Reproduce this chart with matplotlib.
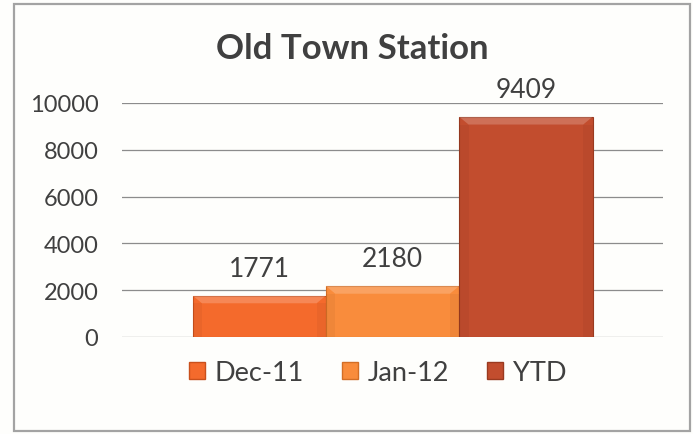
import matplotlib
matplotlib.use("Agg")
import matplotlib.pyplot as plt
from matplotlib.patches import Polygon, Rectangle, Patch

# station totals
series = ["Dec-11", "Jan-12", "YTD"]
values = [1771, 2180, 9409]
colors = ["#F46A2C", "#F98C3C", "#C24D2E"]
edges = ["#C9501C", "#D36E26", "#9A3A20"]
yticks = [0, 2000, 4000, 6000, 8000, 10000]

plt.rcParams["font.family"] = ["Lato", "DejaVu Sans"]
text_col = "#404040"

fig = plt.figure(figsize=(6.93, 4.35), dpi=100, facecolor="#FEFEFC")
ax = fig.add_axes([0.176, 0.223, 0.781, 0.538])
ax.set_facecolor("none")

xs = list(range(len(values)))
bars = ax.bar(xs, values, width=1.0, color=colors, edgecolor=edges,
              linewidth=0.8, zorder=3)

# lighter bevel strip along the top of each bar
for b, c in zip(bars, colors):
    x0, w, h = b.get_x(), b.get_width(), b.get_height()
    dh = 330
    dx = 0.07
    top = Polygon([(x0, h), (x0 + w, h), (x0 + w - dx, h - dh), (x0 + dx, h - dh)],
                  closed=True, facecolor="white", alpha=0.2, edgecolor="none", zorder=4)
    ax.add_patch(top)
    for side in (x0, x0 + w - dx):
        s = Rectangle((side, 0), dx, h - dh, facecolor="black", alpha=0.04,
                      edgecolor="none", zorder=4)
        ax.add_patch(s)

for x, v in zip(xs, values):
    ax.text(x, v + 620, str(v), ha="center", va="bottom", fontsize=19,
            color=text_col)

ax.set_xlim(-1.03, 3.03)
ax.set_ylim(0, 10000)
ax.set_yticks(yticks)
ax.set_yticklabels([str(t) for t in yticks], fontsize=17, color=text_col)
ax.set_xticks([])
ax.tick_params(axis="y", length=0, pad=17)
ax.grid(axis="y", color="#8C8C8C", linewidth=0.9, zorder=0)
for sp in ax.spines.values():
    sp.set_visible(False)

fig.text(0.508, 0.888, "Old Town Station", ha="center", va="center",
         fontsize=25, fontweight="bold", color=text_col)

handles = [Patch(facecolor=c, edgecolor=e) for c, e in zip(colors, edges)]
fig.legend(handles, series, loc="center", bbox_to_anchor=(0.545, 0.142),
           ncol=3, frameon=False, fontsize=19.5, handlelength=0.6,
           handleheight=0.6, handletextpad=0.35, columnspacing=1.4,
           labelcolor=text_col)

# chart frame
fig.add_artist(Rectangle((0.020, 0.007), 0.9757, 0.9815, transform=fig.transFigure,
                         fill=False, edgecolor="#A3A3A3", linewidth=1.6))

fig.savefig("out.png", dpi=100, facecolor=fig.get_facecolor())
